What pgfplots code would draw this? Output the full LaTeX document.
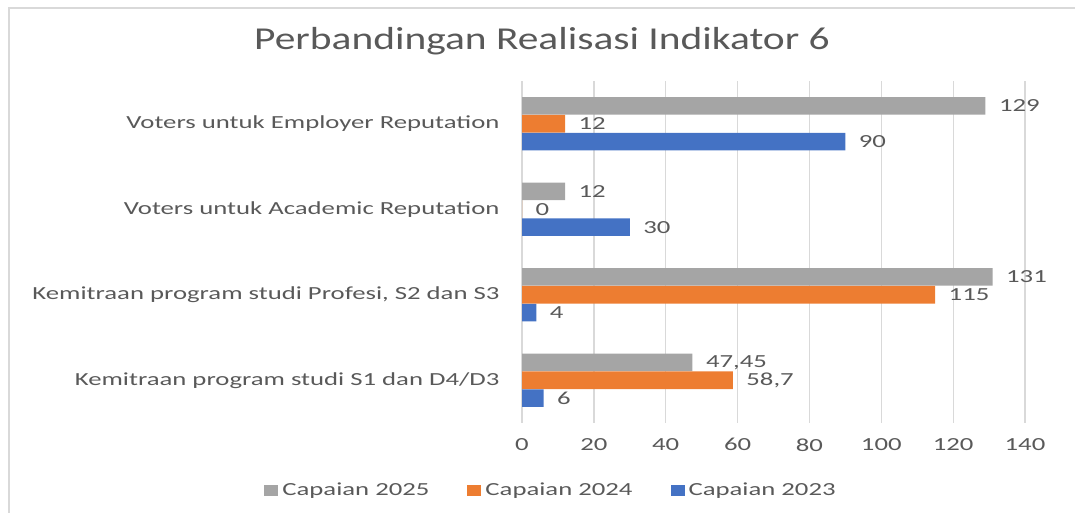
\documentclass[border=0pt]{standalone}
\usepackage{fontspec}
\setmainfont{Carlito}[FakeStretch=1.45]
\newfontfamily\titlefont{Carlito}[FakeStretch=1.3]
\usepackage{pgfplots}
\pgfplotsset{compat=1.18}
\definecolor{c25}{HTML}{A5A5A5}
\definecolor{c24}{HTML}{ED7D31}
\definecolor{c23}{HTML}{4472C4}
\definecolor{txt}{HTML}{595959}
\definecolor{grd}{HTML}{D9D9D9}
\begin{document}
\begin{tikzpicture}[x=1bp,y=1bp]
\useasboundingbox (0,0) rectangle (1075,513);
\draw[grd, line width=1.8bp] (9,-10) -- (9,505) -- (1090,505);
\node[font=\titlefont\fontsize{32}{38}\selectfont, text=txt] at (542,472) {Perbandingan Realisasi Indikator 6};
\begin{axis}[
  at={(522bp,90bp)}, anchor=south west,
  scale only axis, width=503bp, height=342bp,
  xbar,
  xmin=0, xmax=140, ymin=-0.5, ymax=3.5,
  xtick={0,20,...,140},
  ytick={0,1,2,3},
  yticklabels={Kemitraan program studi S1 dan D4/D3,{Kemitraan program studi Profesi, S2 dan S3},Voters untuk Academic Reputation,Voters untuk Employer Reputation},
  /pgf/number format/assume math mode=true,
  xmajorgrids, ymajorgrids=false,
  major grid style={grd, line width=1.3bp},
  axis line style={draw=none},
  major tick length=0pt,
  tick label style={font=\fontsize{18.5}{22}\selectfont, text=txt},
  xticklabel style={yshift=-12bp},
  yticklabel style={xshift=-19bp},
  bar width=0.205,
  nodes near coords={\pgfmathprintnumber[use comma]{\pgfplotspointmeta}},
  nodes near coords style={font=\fontsize{18.5}{22}\selectfont, text=txt, anchor=west, xshift=10bp},
  legend image code/.code={\fill[#1] (0bp,-5.5bp) rectangle (14bp,5.5bp);},
  legend columns=3,
  legend style={at={(0.0577,-0.196)}, anchor=center, draw=none, fill=none,
    font=\fontsize{18.5}{22}\selectfont, text=txt,
    /tikz/every odd column/.append style={column sep=2bp},
    /tikz/every even column/.append style={column sep=36bp}},
]
\addplot[fill=c25, draw=none, bar shift=0.21] coordinates {(47.45,0) (131,1) (12,2) (129,3)};
\addlegendentry{Capaian 2025}
\addplot[fill=c24, draw=none, bar shift=0] coordinates {(58.7,0) (115,1) (0,2) (12,3)};
\addlegendentry{Capaian 2024}
\addplot[fill=c23, draw=none, bar shift=-0.21] coordinates {(6,0) (4,1) (30,2) (90,3)};
\addlegendentry{Capaian 2023}
\end{axis}
\end{tikzpicture}
\end{document}
